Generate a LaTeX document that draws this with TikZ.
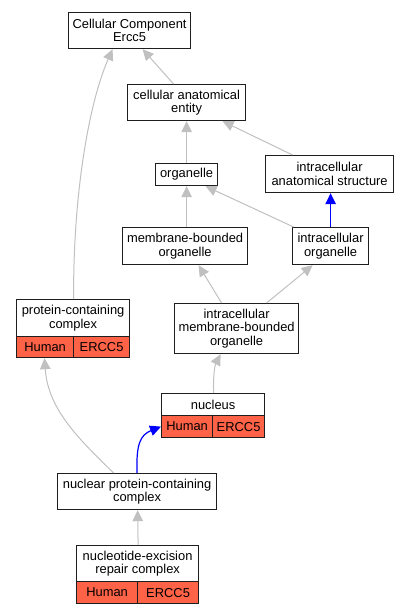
\documentclass[tikz,border=0pt]{standalone}
\usepackage{fontspec}
\setmainfont{Liberation Sans}
\usetikzlibrary{arrows.meta}
\definecolor{edgegray}{RGB}{192,192,192}
\definecolor{tomatored}{RGB}{255,99,71}
\definecolor{boxline}{RGB}{30,30,30}
\begin{document}
\begin{tikzpicture}[x=1pt,y=-1pt,
  box/.style={draw=boxline,line width=1.2pt,fill=white,anchor=north west,inner sep=0pt,align=center,font=\fontsize{12.9}{13.5}\selectfont},
  cell/.style={box,fill=tomatored},
  isa/.style={draw=edgegray,line width=1pt,-{Triangle[length=11pt,width=10.5pt]}},
  partof/.style={draw=blue,line width=1.2pt,-{Triangle[length=11pt,width=10.5pt]}}]
\useasboundingbox (0,0) rectangle (409,613);
% nodes
\node[box,minimum width=122pt,minimum height=36pt] (cc) at (68,12) {Cellular Component\\Ercc5};
\node[box,minimum width=118pt,minimum height=36pt] (cae) at (127,84) {cellular anatomical\\entity};
\node[box,minimum width=62pt,minimum height=22pt] (org) at (155,163) {organelle};
\node[box,minimum width=128pt,minimum height=37pt] (ias) at (265,155) {intracellular\\anatomical structure};
\node[box,minimum width=125pt,minimum height=37pt] (mbo) at (122,227) {membrane-bounded\\organelle};
\node[box,minimum width=76pt,minimum height=37pt] (io) at (292,227) {intracellular\\organelle};
\node[box,minimum width=113pt,minimum height=37pt] (pcc) at (16,299) {protein-containing\\complex};
\node[cell,minimum width=57pt,minimum height=21pt] (pcch) at (16,336) {Human};
\node[cell,minimum width=56pt,minimum height=21pt] (pcce) at (73,336) {ERCC5};
\node[box,minimum width=124pt,minimum height=50pt] (imbo) at (174,303) {intracellular\\membrane-bounded\\organelle};
\node[box,minimum width=103pt,minimum height=22pt] (nuc) at (161,393) {nucleus};
\node[cell,minimum width=51pt,minimum height=22pt] (nuch) at (161,415) {Human};
\node[cell,minimum width=52pt,minimum height=22pt] (nuce) at (212,415) {ERCC5};
\node[box,minimum width=159pt,minimum height=36pt] (npcc) at (57,473) {nuclear protein-containing\\complex};
\node[box,minimum width=122pt,minimum height=36pt] (ner) at (76,545) {nucleotide-excision\\repair complex};
\node[cell,minimum width=61pt,minimum height=22pt] (nerh) at (76,581) {Human};
\node[cell,minimum width=61pt,minimum height=22pt] (nere) at (137,581) {ERCC5};
% edges
\draw[isa] ([xshift=-13pt]cae.north) -- ([xshift=13pt]cc.south);
\draw[isa] ([xshift=0.5pt]pcc.north) .. controls (73,190) and (90,100) .. ([xshift=-17pt]cc.south);
\draw[isa] ([xshift=0pt]org.north) -- ([xshift=0pt]cae.south);
\draw[isa] ([xshift=-37pt]ias.north) -- ([xshift=36pt]cae.south);
\draw[isa] ([xshift=1.5pt]mbo.north) -- ([xshift=0pt]org.south);
\draw[isa] ([xshift=-37pt]io.north) -- ([xshift=19pt]org.south);
\draw[partof] ([xshift=0pt]io.north) -- ([xshift=1pt]ias.south);
\draw[isa] ([xshift=-15pt]imbo.north) -- ([xshift=13.5pt]mbo.south);
\draw[isa] ([xshift=30pt]imbo.north) -- ([xshift=-18pt]io.south);
\draw[isa] ([xshift=0.5pt]nuc.north) .. controls (213,375) and (215,365) .. ([xshift=-16pt]imbo.south);
\draw[isa] ([xshift=-23.5pt]npcc.north) .. controls (80,440) and (48,410) .. ([xshift=-28.5pt]pcce.south west);
\draw[partof] ([xshift=0pt]npcc.north) .. controls (136,445) and (140,435) .. (nuch.west);
\draw[isa] ([xshift=0.5pt]ner.north) -- ([xshift=0.5pt]npcc.south);
\end{tikzpicture}
\end{document}
